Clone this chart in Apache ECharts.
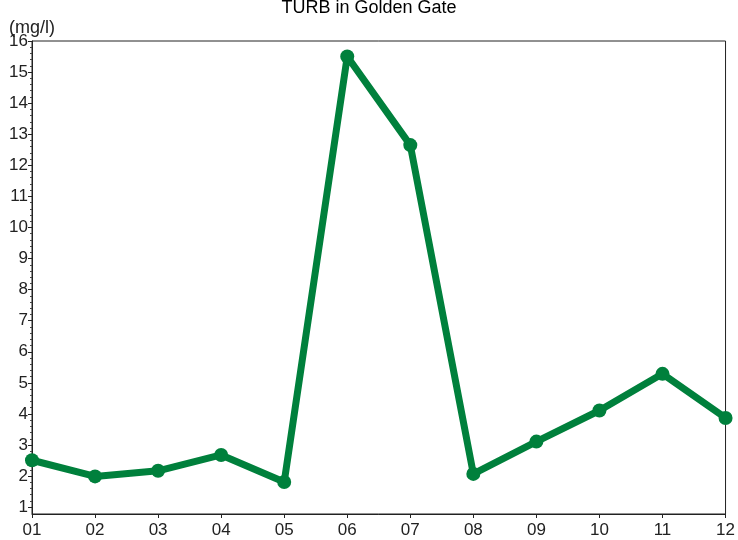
<!DOCTYPE html>
<html>
<head>
<meta charset="utf-8">
<script src="https://cdn.jsdelivr.net/npm/echarts@6/dist/echarts.min.js"></script>
<style>html,body{margin:0;padding:0;background:#fff}#c{width:738px;height:540px}</style>
</head>
<body>
<div id="c"></div>
<script>
const titleText = 'TURB in Golden Gate';
const unitLabel = '(mg/l)';
const months = ['01','02','03','04','05','06','07','08','09','10','11','12'];
const turb = [2.51, 1.99, 2.17, 2.68, 1.81, 15.50, 12.65, 2.07, 3.11, 4.11, 5.29, 3.87];
const yTicks = [1,2,3,4,5,6,7,8,9,10,11,12,13,14,15,16];
const yMin = 0.78, yMax = 16;

const minorTicks = [];
for (let i = 0; i < yTicks.length - 1; i++) {
  for (let k = 1; k < 5; k++) minorTicks.push(yTicks[i] + k * (yTicks[i+1] - yTicks[i]) / 5);
}

const chart = echarts.init(document.getElementById('c'), null, {renderer: 'canvas'});
const font = 'Liberation Sans, Arial, sans-serif';
chart.setOption({
  animation: false,
  backgroundColor: '#fff',
  title: {
    text: titleText, left: 'center', top: -6,
    textStyle: {fontFamily: font, fontSize: 18, fontWeight: 'normal', color: '#000'}
  },
  grid: {left: 32, right: 9, top: 41, bottom: 26, show: true, borderColor: '#222', borderWidth: 1},
  xAxis: {
    type: 'category', data: months, boundaryGap: false,
    axisLine: {lineStyle: {color: '#222', width: 1}},
    axisTick: {alignWithLabel: true, length: 4, lineStyle: {color: '#222'}},
    axisLabel: {fontFamily: font, fontSize: 17, color: '#222', margin: 8}
  },
  yAxis: [{
    type: 'value', min: yMin, max: yMax,
    name: unitLabel, nameLocation: 'end', nameGap: 13, nameMoveOverlap: false,
    nameTextStyle: {fontFamily: font, fontSize: 18, color: '#222', align: 'left', verticalAlign: 'middle', padding: [0,0,0,-23]},
    axisLine: {show: true, lineStyle: {color: '#222', width: 1}},
    axisTick: {show: true, length: 4, customValues: yTicks, lineStyle: {color: '#222'}},
    splitLine: {show: false},
    axisLabel: {fontFamily: font, fontSize: 17, color: '#222', margin: 4, customValues: yTicks}
  }, {
    type: 'value', min: yMin, max: yMax, position: 'left',
    axisLine: {show: false},
    axisTick: {show: true, length: 2, customValues: minorTicks, lineStyle: {color: '#444'}},
    axisLabel: {show: false, customValues: minorTicks},
    splitLine: {show: false}
  }],
  series: [{
    type: 'line', data: turb, yAxisIndex: 0,
    symbol: 'circle', symbolSize: 14,
    lineStyle: {color: '#00803C', width: 7},
    itemStyle: {color: '#00803C'},
    clip: false
  }]
});
</script>
</body>
</html>
